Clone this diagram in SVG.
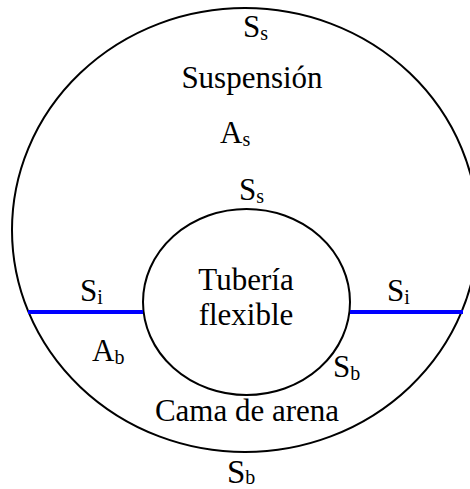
<svg xmlns="http://www.w3.org/2000/svg" width="470" height="489" viewBox="0 0 470 489">
<style>
.shape{fill:none;stroke:#000;stroke-width:2}
.iface{stroke:#0000ff;stroke-width:4}
text{font-family:"Liberation Serif","Times New Roman",serif;font-size:31px;fill:#000}
.c{text-anchor:middle}
.sub{font-size:20px}
</style>
<rect width="470" height="489" fill="#fff"/>
<g id="outer">
<ellipse class="shape" cx="245" cy="230" rx="233" ry="222"/>
</g>
<g id="inner">
<ellipse class="shape" cx="246.5" cy="302" rx="103.5" ry="93"/>
</g>
<g id="connectors">
<line class="iface" x1="28" y1="312" x2="143" y2="312"/>
<line class="iface" x1="350" y1="312" x2="463" y2="312"/>
</g>
<g id="labels">
<text x="243" y="37">S<tspan class="sub" dy="3">s</tspan></text>
<text class="c" x="252" y="88">Suspensión</text>
<text x="220" y="143">A<tspan class="sub" dy="3">s</tspan></text>
<text x="239" y="200">S<tspan class="sub" dy="3">s</tspan></text>
<text x="80" y="301">S<tspan class="sub" dy="3">i</tspan></text>
<text x="387" y="301">S<tspan class="sub" dy="3">i</tspan></text>
<text class="c" x="246" y="290">Tubería</text>
<text class="c" x="246" y="325">flexible</text>
<text x="92" y="361">A<tspan class="sub" dy="3">b</tspan></text>
<text x="333" y="377">S<tspan class="sub" dy="3">b</tspan></text>
<text class="c" x="247" y="421">Cama de arena</text>
<text x="227" y="483" style="font-size:33px">S<tspan class="sub" dy="1">b</tspan></text>
</g>
</svg>
